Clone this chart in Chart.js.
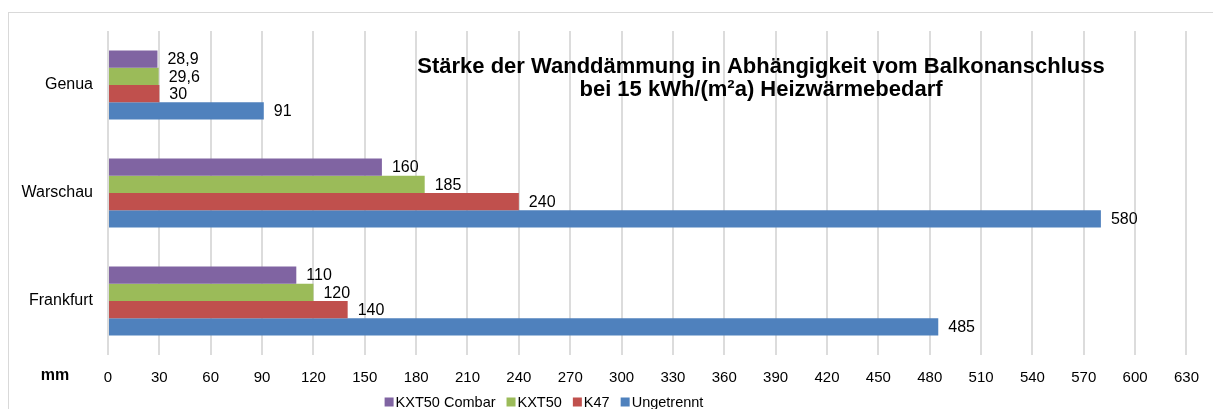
<!DOCTYPE html>
<html>
<head>
<meta charset="utf-8">
<script src="https://cdn.jsdelivr.net/npm/chart.js@4"></script>
<style>
  html, body { margin: 0; padding: 0; background: #fff; overflow: hidden; }
  #wrap { width: 1213px; height: 409px; position: relative; }
</style>
</head>
<body>
<div id="wrap"><canvas id="chart" width="1213" height="409"></canvas></div>
<script>
// data
const categories = ['Genua', 'Warschau', 'Frankfurt'];
const seriesNames = ['KXT50 Combar', 'KXT50', 'K47', 'Ungetrennt'];
const kxt50Combar = [28.9, 160, 110];
const kxt50 = [29.6, 185, 120];
const k47 = [30, 240, 140];
const ungetrennt = [91, 580, 485];
const colors = ['#8064A2', '#9BBB59', '#C0504D', '#4F81BD'];
const titleLines = ['Stärke der Wanddämmung in Abhängigkeit vom Balkonanschluss', 'bei 15 kWh/(m²a) Heizwärmebedarf'];
const axisUnit = 'mm';

const FONT = '"Liberation Sans", Arial, sans-serif';

// frame, title, value labels, unit and legend
const extras = {
    id: 'extras',
    beforeDraw(chart) {
        const ctx = chart.ctx;
        ctx.save();
        ctx.strokeStyle = '#d9d9d9';
        ctx.lineWidth = 1;
        ctx.strokeRect(8.5, 12.5, 1400, 600);
        ctx.restore();
    },
    afterDatasetsDraw(chart) {
        const ctx = chart.ctx;
        ctx.save();
        ctx.font = '16px ' + FONT;
        ctx.fillStyle = '#000';
        ctx.textBaseline = 'middle';
        ctx.textAlign = 'left';
        chart.data.datasets.forEach((ds, i) => {
            chart.getDatasetMeta(i).data.forEach((bar, j) => {
                const txt = String(ds.data[j]).replace('.', ',');
                ctx.fillText(txt, bar.x + 10, bar.y + 1);
            });
        });
        ctx.restore();
    },
    afterDraw(chart) {
        const ctx = chart.ctx;
        ctx.save();
        // title inside plot
        ctx.fillStyle = '#000';
        ctx.font = 'bold 22px ' + FONT;
        ctx.textAlign = 'center';
        ctx.textBaseline = 'middle';
        ctx.fillText(titleLines[0], 761, 67);
        ctx.fillText(titleLines[1], 761, 90);
        // unit
        ctx.font = 'bold 16px ' + FONT;
        ctx.fillText(axisUnit, 55, 376);
        // legend
        ctx.font = '14.5px ' + FONT;
        ctx.textAlign = 'left';
        const box = 9, gap = 2, spacing = 11;
        const widths = seriesNames.map(n => box + gap + ctx.measureText(n).width);
        const total = widths.reduce((a, b) => a + b, 0) + spacing * (seriesNames.length - 1);
        let x = 544 - total / 2;
        const y = 402;
        seriesNames.forEach((n, i) => {
            ctx.fillStyle = colors[i];
            ctx.fillRect(x, y - box / 2, box, box);
            ctx.fillStyle = '#000';
            ctx.fillText(n, x + box + gap, y + 1);
            x += widths[i] + spacing;
        });
        ctx.restore();
    }
};

const seriesData = [kxt50Combar, kxt50, k47, ungetrennt];

new Chart(document.getElementById('chart'), {
    type: 'bar',
    data: {
        labels: categories,
        datasets: seriesNames.map((name, i) => ({
            label: name,
            data: seriesData[i],
            backgroundColor: colors[i],
            borderWidth: 0,
            categoryPercentage: 0.64,
            barPercentage: 1.0
        }))
    },
    options: {
        indexAxis: 'y',
        responsive: false,
        animation: false,
        layout: {
            padding: { top: 31, right: 14, bottom: 0, left: 0 }
        },
        plugins: {
            legend: { display: false },
            tooltip: { enabled: false },
            title: { display: false }
        },
        scales: {
            x: {
                min: 0,
                max: 630,
                ticks: {
                    stepSize: 30,
                    color: '#000',
                    font: { family: FONT, size: 15 },
                    padding: 14,
                    maxRotation: 0
                },
                grid: {
                    color: '#dcdcdc',
                    lineWidth: 2,
                    drawTicks: false
                },
                border: { display: false },
                afterFit(scale) { scale.height = 54; }
            },
            y: {
                ticks: {
                    color: '#000',
                    font: { family: FONT, size: 16 },
                    padding: 15
                },
                grid: { display: false, drawTicks: false },
                border: { display: false },
                afterFit(scale) { scale.width = 108; }
            }
        }
    },
    plugins: [extras]
});
</script>
</body>
</html>
